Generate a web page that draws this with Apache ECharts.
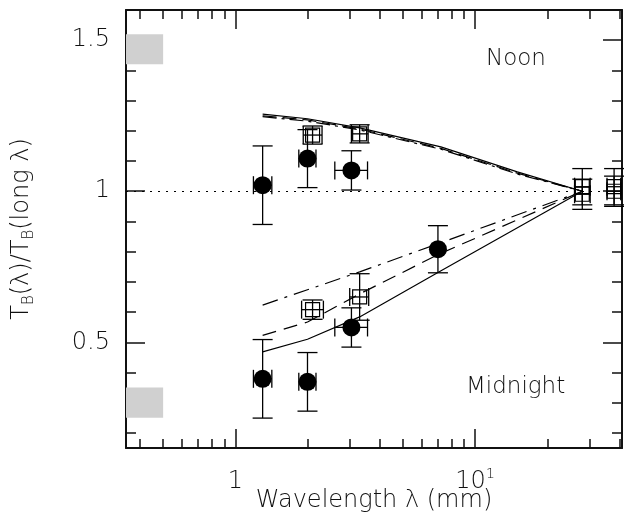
<!DOCTYPE html>
<html>
<head>
<meta charset="utf-8">
<script src="https://cdn.jsdelivr.net/npm/echarts@6/dist/echarts.min.js"></script>
<style>
  html, body { margin: 0; padding: 0; background: #fff; }
  #container { width: 624px; height: 519px; }
</style>
</head>
<body>
<div id="container"></div>
<script>
// measured points: wavelength (mm), ratio, error ranges
var noonCircX = [1.3, 2.0, 3.05];
var noonCircY = [1.02, 1.108, 1.069];
var noonCircXLo = [1.19, 1.84, 2.6];
var noonCircXHi = [1.42, 2.17, 3.56];
var noonCircErr = [0.13, 0.096, 0.065];

var midCircX = [1.3, 2.0, 3.05, 7.0];
var midCircY = [0.379, 0.369, 0.549, 0.808];
var midCircXLo = [1.19, 1.84, 2.6, 7.0];
var midCircXHi = [1.42, 2.17, 3.56, 7.0];
var midCircErr = [0.13, 0.097, 0.065, 0.078];

var squareX = [2.1, 3.3, 2.1, 3.3, 28, 28, 38, 38];
var squareY = [1.186, 1.19, 0.608, 0.65, 1.015, 0.99, 1.015, 1.0];
var squareXLo = [1.92, 3.05, 1.89, 3.0, 26, 26, 35.5, 35.5];
var squareXHi = [2.3, 3.58, 2.33, 3.6, 30.2, 30.2, 40.5, 40.5];
var squareErr = [0.03, 0.03, 0.032, 0.077, 0.06, 0.05, 0.06, 0.05];

// model curves
var modelX = [1.3, 2.0, 3.3, 7.2, 15, 28];
var noonSolid = [1.255, 1.24, 1.21, 1.147, 1.064, 1.0];
var noonDash = [1.25, 1.236, 1.206, 1.142, 1.06, 1.0];
var noonDashDot = [1.247, 1.232, 1.203, 1.139, 1.057, 1.0];

var midModelX = [1.3, 2.0, 3.3, 7.0, 28];
var midSolid = [0.468, 0.51, 0.584, 0.731, 1.0];
var midDash = [0.523, 0.567, 0.66, 0.79, 1.0];
var midDashDot = [0.623, 0.674, 0.733, 0.826, 1.0];

// grey bands [xFrom, xTo, yFrom, yTo]
var greyBands = [[0.35, 0.5, 1.42, 1.52], [0.35, 0.5, 0.25, 0.35]];

var xMajor = [1, 10];
var xMinor = [0.4, 0.5, 0.6, 0.7, 0.8, 0.9, 2, 3, 4, 5, 6, 7, 8, 9, 20, 30, 40];
var yMajor = [0.5, 1, 1.5];
var yMinor = [0.2, 0.3, 0.4, 0.6, 0.7, 0.8, 0.9, 1.1, 1.2, 1.3, 1.4, 1.6];

var FONT = 'DejaVu Sans';
var INK = '#111';

function zip(xs, ys) {
    return xs.map(function (x, i) { return [x, ys[i]]; });
}
function errData(xs, ys, lo, hi, err) {
    return xs.map(function (x, i) {
        return [x, ys[i], lo[i], hi[i], ys[i] - err[i], ys[i] + err[i]];
    });
}

function renderErr(params, api) {
    var c = api.coord([api.value(0), api.value(1)]);
    var yLo = api.coord([api.value(0), api.value(4)]);
    var yHi = api.coord([api.value(0), api.value(5)]);
    var xLo = api.coord([api.value(2), api.value(1)]);
    var xHi = api.coord([api.value(3), api.value(1)]);
    var st = { stroke: '#000', lineWidth: 1.3 };
    var cap = 10;
    var kids = [
        { type: 'line', shape: { x1: c[0], y1: yLo[1], x2: c[0], y2: yHi[1] }, style: st },
        { type: 'line', shape: { x1: c[0] - cap, y1: yLo[1], x2: c[0] + cap, y2: yLo[1] }, style: st },
        { type: 'line', shape: { x1: c[0] - cap, y1: yHi[1], x2: c[0] + cap, y2: yHi[1] }, style: st }
    ];
    if (xHi[0] - xLo[0] > 1) {
        kids.push({ type: 'line', shape: { x1: xLo[0], y1: c[1], x2: xHi[0], y2: c[1] }, style: st });
        kids.push({ type: 'line', shape: { x1: xLo[0], y1: c[1] - 9, x2: xLo[0], y2: c[1] + 9 }, style: st });
        kids.push({ type: 'line', shape: { x1: xHi[0], y1: c[1] - 9, x2: xHi[0], y2: c[1] + 9 }, style: st });
    }
    return { type: 'group', children: kids };
}

function xAxisDef(pos, ticks, len, showLine, showLabel, name) {
    return {
        type: 'log', logBase: 10, min: 0.35, max: 41, position: pos,
        axisLine: { show: showLine, lineStyle: { color: INK, width: 2 } },
        axisTick: { show: true, inside: true, length: len, customValues: ticks,
            lineStyle: { color: INK, width: 1.5 } },
        axisLabel: {
            show: showLabel, customValues: xMajor, margin: 19,
            fontFamily: FONT, fontSize: 24, fontWeight: 200, color: INK,
            formatter: function (v) {
                if (Math.abs(v - 1) < 1e-6) return '{b|1}';
                if (Math.abs(v - 10) < 1e-6) return '{b|10}{sup|1}';
                return '';
            },
            rich: {
                b: { fontFamily: FONT, fontSize: 24, fontWeight: 200, color: INK, lineHeight: 30 },
                sup: { fontFamily: FONT, fontSize: 14, fontWeight: 200, color: INK, verticalAlign: 'top', lineHeight: 30, padding: [0, 0, 12, 0] }
            }
        },
        splitLine: { show: false },
        name: name || '',
        nameLocation: 'middle', nameGap: 41,
        nameTextStyle: { fontFamily: FONT, fontSize: 24, fontWeight: 200, color: INK }
    };
}

function yAxisDef(pos, ticks, len, showLine, showLabel) {
    return {
        type: 'value', min: 0.15, max: 1.6, position: pos,
        axisLine: { show: showLine, lineStyle: { color: INK, width: 2 } },
        axisTick: { show: true, inside: true, length: len, customValues: ticks,
            lineStyle: { color: INK, width: 1.5 } },
        axisLabel: {
            show: showLabel, customValues: yMajor, margin: 16,
            fontFamily: FONT, fontSize: 24, fontWeight: 200, color: INK,
            formatter: function (v) { return String(+v.toFixed(2)); }
        },
        splitLine: { show: false },
        name: showLabel ? '{t|T}{s|B}{t|(λ)/T}{s|B}{t|(long λ)}' : '',
        nameLocation: 'middle', nameGap: 89, nameRotate: 90,
        nameTextStyle: {
            rich: {
                t: { fontFamily: FONT, fontSize: 24, fontWeight: 200, color: INK, lineHeight: 30 },
                s: { fontFamily: FONT, fontSize: 15, fontWeight: 200, color: INK, verticalAlign: 'bottom', lineHeight: 30, padding: [14, 0, 0, 0] }
            }
        }
    };
}

var dom = document.getElementById('container');
var myChart = echarts.init(dom, null, { renderer: 'canvas' });

function lineSeries(xs, ys, dash) {
    return {
        type: 'line', data: zip(xs, ys), symbol: 'none', silent: true,
        lineStyle: { color: '#000', width: 1.2, type: dash }
    };
}

var option = {
    animation: false,
    grid: { left: 126, right: 2, top: 10, bottom: 71, outerBoundsMode: 'none', containLabel: false },
    xAxis: [
        xAxisDef('bottom', xMajor, 19, true, true),
        xAxisDef('bottom', xMinor, 9, false, false, 'Wavelength λ (mm)'),
        xAxisDef('top', xMajor, 19, true, false),
        xAxisDef('top', xMinor, 9, false, false)
    ],
    yAxis: [
        yAxisDef('left', yMajor, 19, true, true),
        yAxisDef('left', yMinor, 10, false, false),
        yAxisDef('right', yMajor, 19, true, false),
        yAxisDef('right', yMinor, 10, false, false)
    ],
    graphic: [
        { type: 'text', left: 486, top: 48, style: { text: 'Noon', fontFamily: FONT, fontSize: 23, fontWeight: 200, fill: INK } },
        { type: 'text', left: 466, top: 376, style: { text: 'Midnight', fontFamily: FONT, fontSize: 23, fontWeight: 200, fill: INK } }
    ],
    series: [
        {
            type: 'line', data: [], silent: true,
            markArea: {
                silent: true,
                itemStyle: { color: '#d0d0d0' },
                data: greyBands.map(function (b) {
                    return [{ coord: [b[0], b[2]] }, { coord: [b[1], b[3]] }];
                })
            },
            markLine: {
                silent: true, symbol: 'none', label: { show: false },
                lineStyle: { color: '#000', width: 1.2, type: [2, 6] },
                data: [{ yAxis: 1 }]
            }
        },
        lineSeries(modelX, noonSolid, 'solid'),
        lineSeries(modelX, noonDash, [14, 6]),
        lineSeries(modelX, noonDashDot, [14, 5, 3, 5]),
        lineSeries(midModelX, midSolid, 'solid'),
        lineSeries(midModelX, midDash, [14, 8]),
        lineSeries(midModelX, midDashDot, [16, 7, 3, 7]),
        { type: 'custom', renderItem: renderErr, data: errData(noonCircX, noonCircY, noonCircXLo, noonCircXHi, noonCircErr), z: 3 },
        { type: 'custom', renderItem: renderErr, data: errData(midCircX, midCircY, midCircXLo, midCircXHi, midCircErr), z: 3 },
        { type: 'custom', renderItem: renderErr, data: errData(squareX, squareY, squareXLo, squareXHi, squareErr), z: 3 },
        {
            type: 'scatter', data: zip(noonCircX, noonCircY).concat(zip(midCircX, midCircY)),
            symbol: 'circle', symbolSize: 18, itemStyle: { color: '#000', opacity: 1 }, z: 4
        },
        {
            type: 'scatter', data: zip(squareX, squareY),
            symbol: 'rect', symbolSize: 14,
            itemStyle: { color: 'rgba(0,0,0,0)', borderColor: '#000', borderWidth: 1.2, opacity: 1 }, z: 4
        }
    ]
};

myChart.setOption(option);
window.addEventListener('resize', myChart.resize);
</script>
</body>
</html>
